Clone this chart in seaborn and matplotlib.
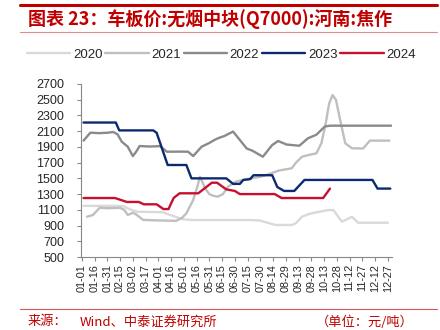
import matplotlib
matplotlib.use("Agg")
import matplotlib.pyplot as plt
import seaborn as sns
import pandas as pd
from matplotlib.lines import Line2D

sns.set_style("white")
plt.rcParams['font.family'] = ['Liberation Sans', 'Noto Sans CJK SC', 'DejaVu Sans']

# ---------------- data (MM-DD, price) ----------------
dates_2020 = ["01-03", "02-18", "02-28", "03-07", "04-06", "04-15", "04-30", "05-11",
              "07-18", "07-29", "08-06", "08-17", "09-05", "09-10", "09-17", "09-26",
              "10-08", "10-18", "10-24", "11-03", "11-09", "11-15", "11-22", "12-27"]
values_2020 = [1150, 1150, 1100, 1076, 1070, 1034, 979, 970,
               970, 965, 940, 907, 907, 930, 1012, 1050,
               1076, 1097, 1097, 949, 980, 1012, 936, 936]

dates_2021 = ["01-07", "01-14", "01-22", "01-31", "02-15", "02-20", "02-24", "03-02",
              "03-06", "03-14", "04-01", "04-22", "04-29", "05-04", "05-12", "05-17",
              "05-20", "05-23", "05-26", "05-31", "06-04", "06-10", "06-16", "06-22",
              "07-01", "07-14", "07-30", "08-06", "08-21", "09-05", "09-10", "09-17",
              "09-26", "10-04", "10-10", "10-15", "10-19", "10-23", "10-27", "11-01",
              "11-07", "11-15", "11-28", "12-06", "12-29"]
values_2021 = [1012, 1034, 1127, 1120, 1125, 1100, 1034, 1063,
               1040, 972, 965, 960, 1000, 1055, 1224, 1400,
               1521, 1450, 1373, 1300, 1280, 1267, 1300, 1394,
               1458, 1490, 1521, 1543, 1600, 1628, 1700, 1775,
               1800, 1818, 1950, 2200, 2450, 2560, 2500, 2242,
               1946, 1882, 1880, 1980, 1980]

dates_2022 = ["01-03", "01-11", "01-21", "01-31", "02-07", "02-12", "02-17", "02-24",
              "03-02", "03-06", "03-10", "03-22", "04-03", "04-11", "04-26", "05-06",
              "05-12", "05-22", "05-31", "06-06", "06-10", "06-18", "06-28", "07-14",
              "07-21", "08-02", "08-13", "08-20", "08-30", "09-14", "09-24", "10-04",
              "10-14", "10-20", "12-31"]
values_2022 = [1980, 2081, 2075, 2080, 2090, 2060, 1966, 1903,
               1784, 1840, 1911, 1905, 1910, 1839, 1840, 1839,
               1784, 1903, 1950, 1988, 2009, 2040, 2095, 1880,
               1850, 1775, 1924, 1975, 1930, 1915, 2009, 2055,
               2160, 2170, 2170]

dates_2023 = ["01-03", "02-10", "02-14", "03-26", "03-30", "04-12", "05-04", "05-10",
              "06-20", "06-28", "07-06", "07-10", "07-18", "07-22", "08-13", "08-19",
              "08-27", "09-08", "09-20", "12-09", "12-15", "12-30"]
values_2023 = [2210, 2210, 2110, 2110, 2080, 1670, 1670, 1500,
               1500, 1430, 1430, 1480, 1490, 1540, 1540, 1390,
               1340, 1340, 1480, 1480, 1370, 1370]

dates_2024 = ["01-03", "02-09", "02-23", "03-09", "03-15", "03-30", "04-07", "04-13",
              "04-19", "04-26", "05-18", "06-03", "06-09", "06-20", "06-30", "07-06",
              "08-16", "08-24", "10-12", "10-20"]
values_2024 = [1250, 1250, 1200, 1200, 1170, 1170, 1110, 1110,
               1250, 1310, 1310, 1445, 1445, 1360, 1340, 1300,
               1300, 1250, 1250, 1370]

years = ["2020", "2021", "2022", "2023", "2024"]
colors = ["#d9d9d9", "#bfbfbf", "#8a8a8a", "#0b2a6f", "#c8102e"]
tick_labels = ["01-01", "01-16", "01-31", "02-15", "03-02", "03-17", "04-01", "04-16",
               "05-01", "05-16", "05-31", "06-15", "06-30", "07-15", "07-30", "08-14",
               "08-29", "09-13", "09-28", "10-13", "10-28", "11-12", "11-27", "12-12",
               "12-27"]


def doy(s):
    return pd.Timestamp("2021-" + s).dayofyear - 1


frames = []
for y, d, v in zip(years,
                   [dates_2020, dates_2021, dates_2022, dates_2023, dates_2024],
                   [values_2020, values_2021, values_2022, values_2023, values_2024]):
    frames.append(pd.DataFrame({"day": [doy(s) for s in d], "value": v, "year": y}))
df = pd.concat(frames, ignore_index=True)

# ---------------- figure ----------------
fig = plt.figure(figsize=(4.4, 3.3), dpi=100)
ax = fig.add_axes([81 / 440, 1 - 257 / 330, (392 - 81) / 440, (257 - 84) / 330])

sns.lineplot(data=df, x="day", y="value", hue="year", hue_order=years,
             palette=dict(zip(years, colors)), linewidth=1.7, estimator=None,
             legend=False, ax=ax)

ax.set_xlim(-1, 365)
ax.set_ylim(500, 2700)
ax.set_yticks(range(500, 2701, 200))
ax.set_xticks([doy(t) for t in tick_labels])
ax.set_xticklabels(tick_labels, rotation=90, fontsize=7.8)
ax.tick_params(axis="y", labelsize=9, length=3, width=0.8, color="#888888", pad=9, direction="out")
ax.tick_params(axis="x", length=3, width=0.8, color="#888888", pad=2, direction="out")
ax.tick_params(left=True, bottom=True)
ax.set_xlabel("")
ax.set_ylabel("")
for side in ["top", "right"]:
    ax.spines[side].set_visible(False)
for side in ["left", "bottom"]:
    ax.spines[side].set_color("#888888")
    ax.spines[side].set_linewidth(0.8)

# legend
handles = [Line2D([0], [0], color=c, lw=1.7) for c in colors]
fig.legend(handles, years, loc="center", bbox_to_anchor=(0.503, 1 - 55 / 330), ncol=5,
           frameon=False, fontsize=9.5, handlelength=3.3, handletextpad=0.2,
           columnspacing=0.2)

# header / footer decorations
red = "#c00000"
fig.add_artist(Line2D([20 / 440, 437 / 440], [1 - 5 / 330, 1 - 5 / 330], color=red, lw=2.2))
fig.add_artist(Line2D([20 / 440, 437 / 440], [1 - 32 / 330, 1 - 32 / 330], color="#e08a8a", lw=0.8))
fig.add_artist(Line2D([20 / 440, 437 / 440], [1 - 309 / 330, 1 - 309 / 330], color="#d65a5a", lw=0.8))

cjk = ["Noto Sans CJK SC", "DejaVu Sans"]
fig.text(28 / 440, 1 - 19 / 330, "图表 23：车板价:无烟中块(Q7000):河南:焦作", color=red,
         fontsize=13, fontweight="bold", va="center", ha="left", family=cjk)
fig.text(28 / 440, 1 - 322 / 330, "来源：", color=red, fontsize=9.5, va="center", ha="left",
         family=cjk)
fig.text(80 / 440, 1 - 322 / 330, "Wind、中泰证券研究所", color=red, fontsize=9.5, va="center",
         ha="left", family=cjk)
fig.text(414 / 440, 1 - 322 / 330, "（单位：元/吨）", color=red, fontsize=9.5, va="center",
         ha="right", family=cjk)

fig.savefig("out.png", dpi=100)
